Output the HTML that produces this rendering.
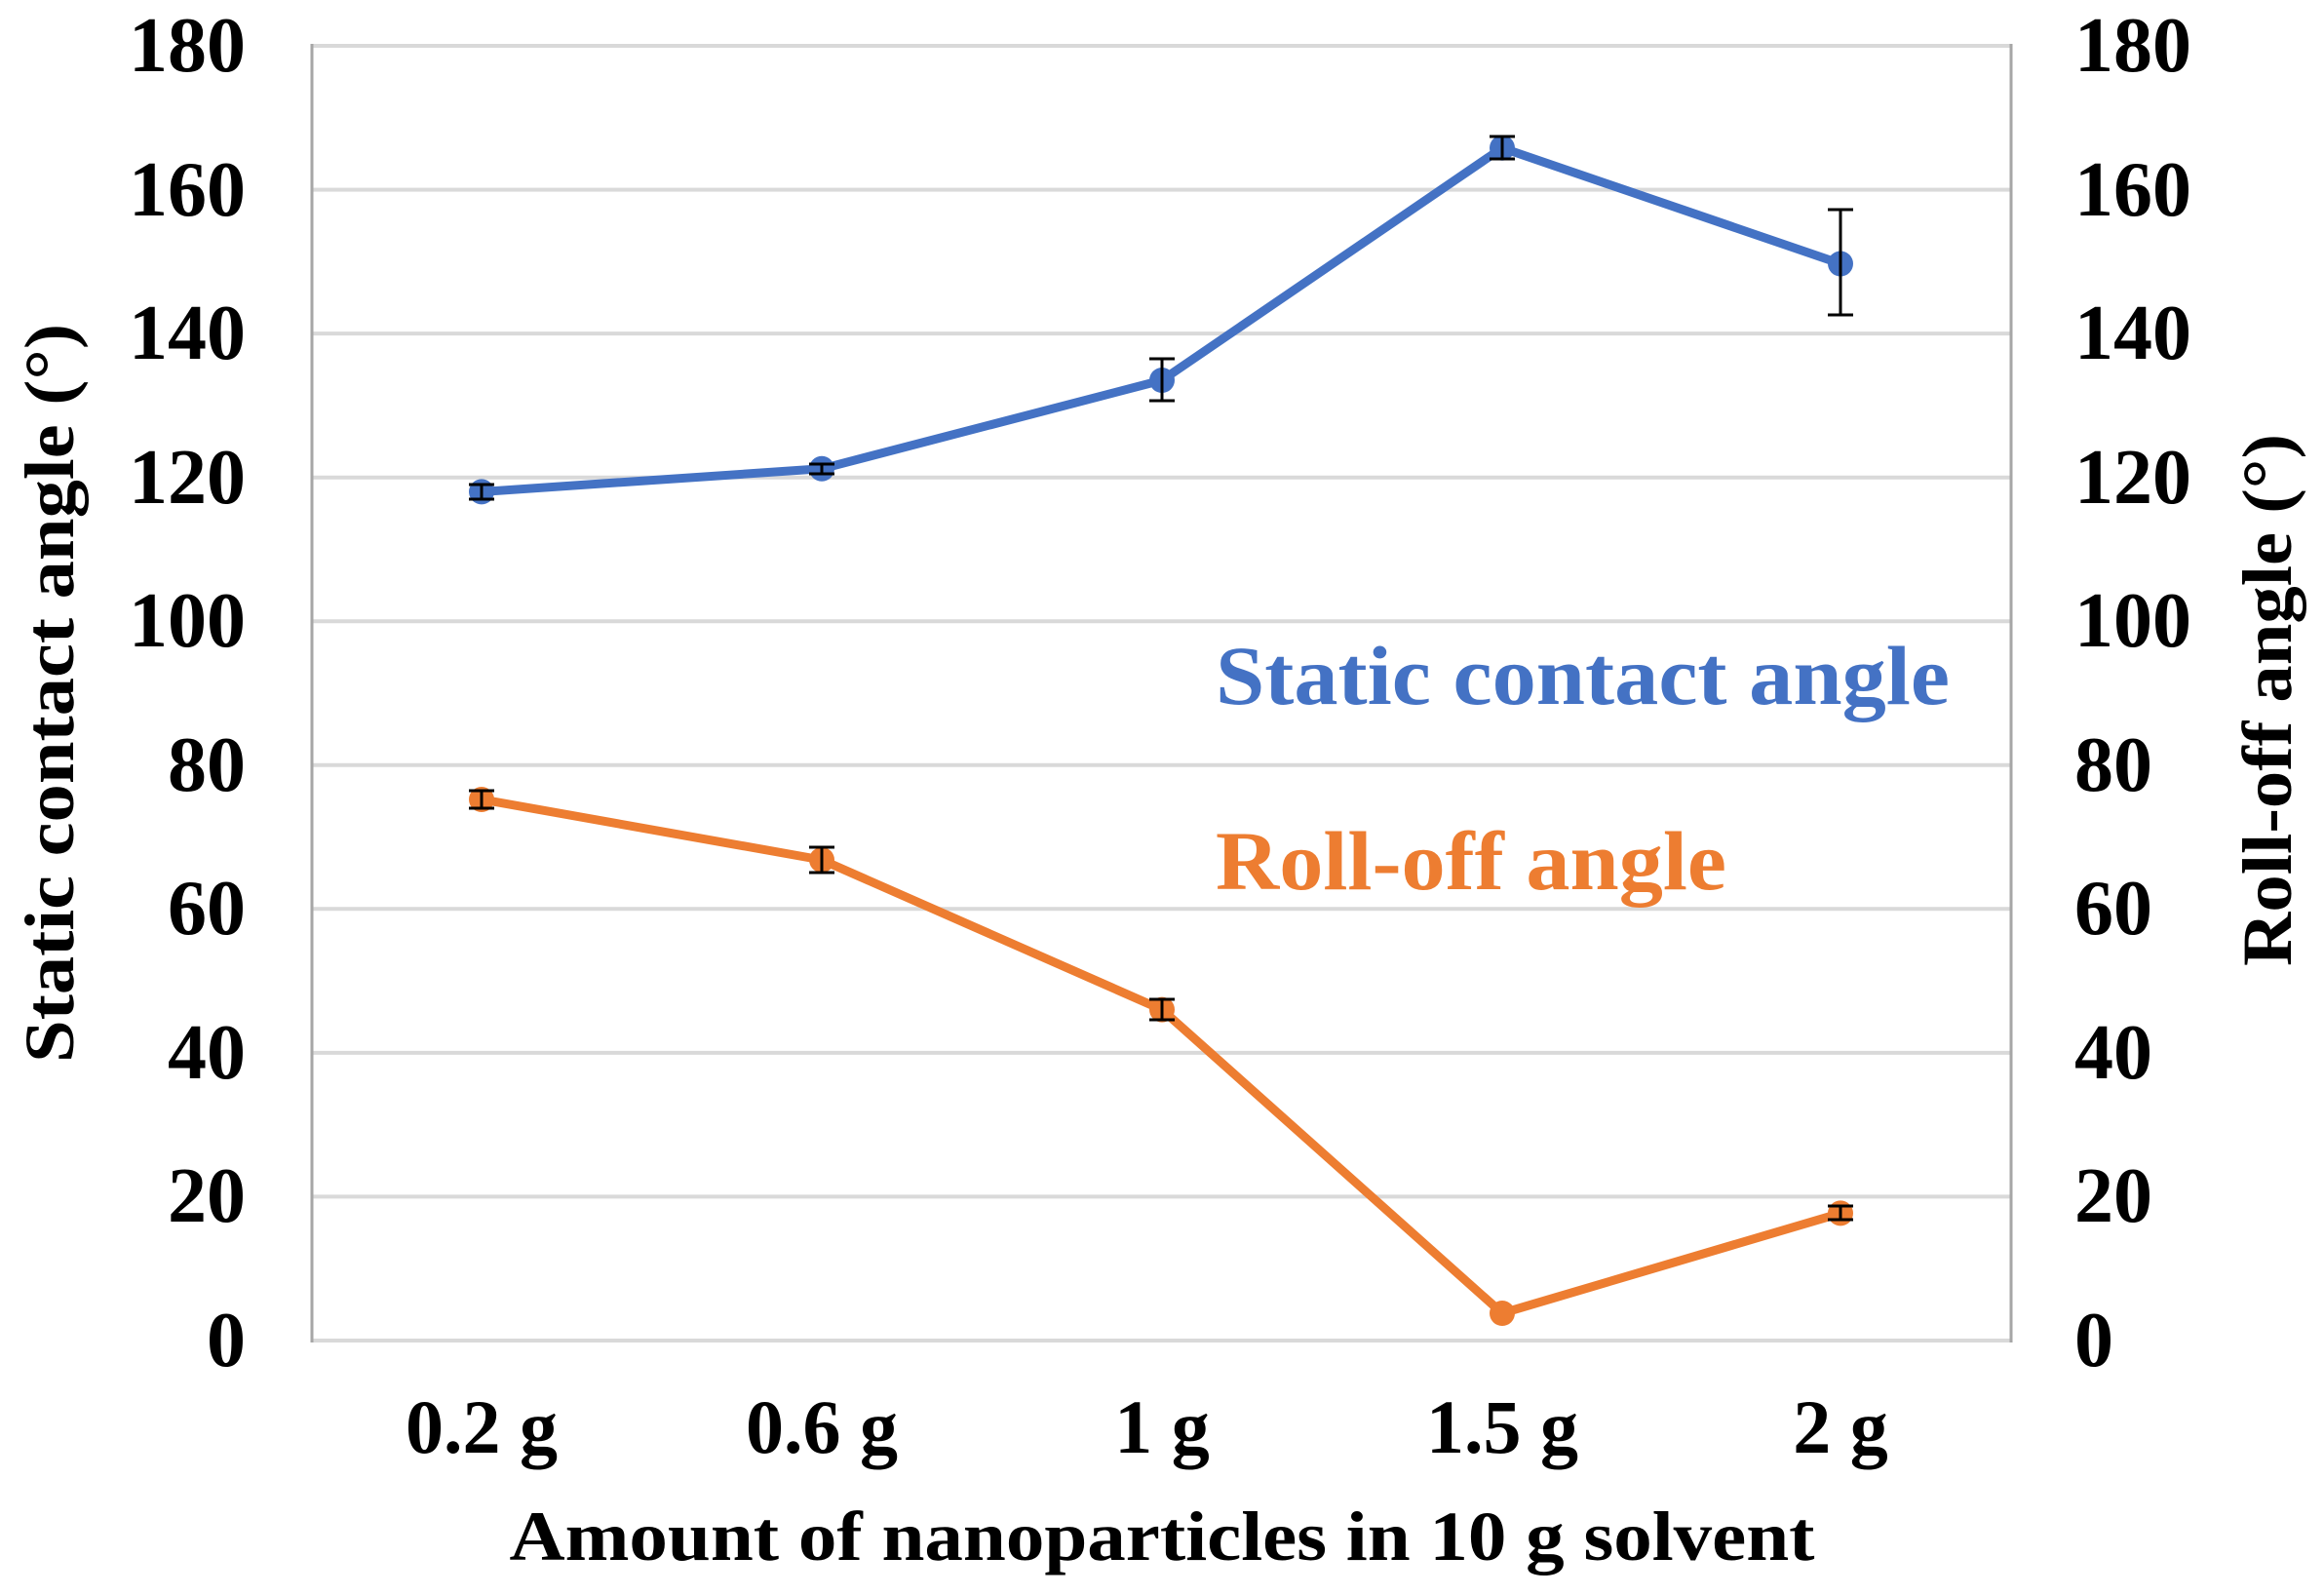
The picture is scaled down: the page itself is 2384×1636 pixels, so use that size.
<!DOCTYPE html>
<html><head><meta charset="utf-8"><style>
html,body{margin:0;padding:0;background:#fff;}
svg{display:block;}
text{font-family:"Liberation Serif",serif;font-weight:bold;}
</style></head><body>
<svg width="2384" height="1636" viewBox="0 0 2384 1636" xmlns="http://www.w3.org/2000/svg">
<rect width="2384" height="1636" fill="#fff"/>
<g stroke="#d9d9d9" stroke-width="4">
<line x1="320" y1="47" x2="2063" y2="47"/>
<line x1="320" y1="194.6" x2="2063" y2="194.6"/>
<line x1="320" y1="342.1" x2="2063" y2="342.1"/>
<line x1="320" y1="489.7" x2="2063" y2="489.7"/>
<line x1="320" y1="637.2" x2="2063" y2="637.2"/>
<line x1="320" y1="784.8" x2="2063" y2="784.8"/>
<line x1="320" y1="932.3" x2="2063" y2="932.3"/>
<line x1="320" y1="1079.9" x2="2063" y2="1079.9"/>
<line x1="320" y1="1227.4" x2="2063" y2="1227.4"/>
<line x1="320" y1="1375" x2="2063" y2="1375"/>
</g>
<line x1="320" y1="45" x2="320" y2="1377" stroke="#a6a6a6" stroke-width="3"/>
<line x1="2063" y1="45" x2="2063" y2="1377" stroke="#a6a6a6" stroke-width="3"/>
<g font-size="80" text-anchor="end" fill="#000">
<text x="252" y="73">180</text><text x="252" y="221">160</text><text x="252" y="368">140</text>
<text x="252" y="516">120</text><text x="252" y="663">100</text><text x="252" y="811">80</text>
<text x="252" y="958">60</text><text x="252" y="1106">40</text><text x="252" y="1253">20</text>
<text x="252" y="1401">0</text>
</g>
<g font-size="80" text-anchor="start" fill="#000">
<text x="2128" y="73">180</text><text x="2128" y="221">160</text><text x="2128" y="368">140</text>
<text x="2128" y="516">120</text><text x="2128" y="663">100</text><text x="2128" y="811">80</text>
<text x="2128" y="958">60</text><text x="2128" y="1106">40</text><text x="2128" y="1253">20</text>
<text x="2128" y="1401">0</text>
</g>
<g font-size="78" text-anchor="middle" fill="#000">
<text x="494" y="1490">0.2 g</text><text x="843" y="1490">0.6 g</text><text x="1192" y="1490">1 g</text>
<text x="1541" y="1490">1.5 g</text><text x="1888" y="1490">2 g</text>
</g>
<text x="1192" y="1600" font-size="72" text-anchor="middle" textLength="1339" lengthAdjust="spacingAndGlyphs">Amount of nanoparticles in 10 g solvent</text>
<text transform="translate(75,711) rotate(-90)" font-size="72" text-anchor="middle" textLength="758" lengthAdjust="spacingAndGlyphs">Static contact angle (°)</text>
<text transform="translate(2350,718) rotate(-90)" font-size="72" text-anchor="middle" textLength="546" lengthAdjust="spacingAndGlyphs">Roll-off angle (°)</text>
<text x="1247" y="722" font-size="86" fill="#4472c4" textLength="753" lengthAdjust="spacingAndGlyphs">Static contact angle</text>
<text x="1247" y="912" font-size="86" fill="#ed7d31" textLength="524" lengthAdjust="spacingAndGlyphs">Roll-off angle</text>
<!-- blue series -->
<polyline fill="none" stroke="#4472c4" stroke-width="9" stroke-linejoin="round" points="494,504.4 843,480.8 1192,390 1541,151.7 1888,270.5"/>
<g fill="#4472c4"><circle cx="494" cy="504.4" r="13"/><circle cx="843" cy="480.8" r="13"/><circle cx="1192" cy="390" r="13"/><circle cx="1541" cy="151.7" r="13"/><circle cx="1888" cy="270.5" r="13"/></g>
<g stroke="#000" stroke-width="3" fill="none">
<path d="M494,497v15M481,497h26M481,512h26"/>
<path d="M843,476v10M830,476h26M830,486h26"/>
<path d="M1192,368v43M1179,368h26M1179,411h26"/>
<path d="M1541,140v23M1528,140h26M1528,163h26"/>
<path d="M1888,215v108M1875,215h26M1875,323h26"/>
</g>
<!-- orange series -->
<polyline fill="none" stroke="#ed7d31" stroke-width="9" stroke-linejoin="round" points="494,820 843,882 1192,1035.6 1541,1347 1888,1244.4"/>
<g fill="#ed7d31"><circle cx="494" cy="820" r="13"/><circle cx="843" cy="882" r="13"/><circle cx="1192" cy="1035.6" r="13"/><circle cx="1541" cy="1347" r="13"/><circle cx="1888" cy="1244.4" r="13"/></g>
<g stroke="#000" stroke-width="3" fill="none">
<path d="M494,811v18M481,811h26M481,829h26"/>
<path d="M843,869v26M830,869h26M830,895h26"/>
<path d="M1192,1025v21M1179,1025h26M1179,1046h26"/>
<path d="M1888,1237v14M1875,1237h26M1875,1251h26"/>
</g>
</svg>
</body></html>
